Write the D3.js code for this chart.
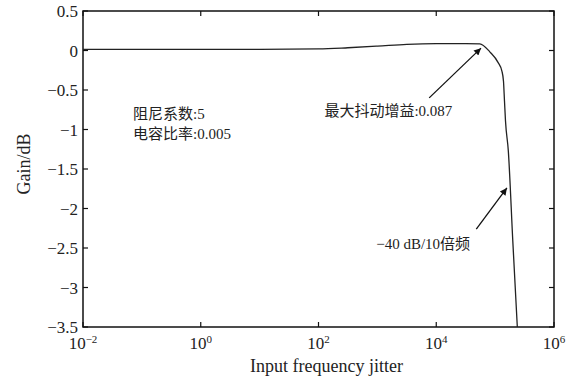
<!DOCTYPE html>
<html>
<head>
<meta charset="utf-8">
<script src="https://cdn.jsdelivr.net/npm/d3@7"></script>
<style>
  body { margin: 0; background: #fff; }
  text { font-family: "Liberation Serif", "Noto Sans CJK SC", serif; fill: #222; }
</style>
</head>
<body>
<svg id="chart" width="579" height="381"></svg>
<script>
// curve: log10(frequency) and gain in dB
const logFreq = [-2, 0, 1, 2, 2.5, 3, 3.5, 4, 4.5, 4.74, 4.913, 5.049, 5.115, 5.142, 5.159, 5.176, 5.224, 5.30, 5.377];
const gainDb = [0.015, 0.015, 0.015, 0.02, 0.035, 0.055, 0.078, 0.087, 0.087, 0.085, -0.02, -0.15, -0.26, -0.39, -0.64, -0.89, -1.27, -2.41, -3.5];

const xTickExp = [-2, 0, 2, 4, 6];
const yTicks = [0.5, 0, -0.5, -1, -1.5, -2, -2.5, -3, -3.5];

const notes = ['阻尼系数:5', '电容比率:0.005'];

const margin = { top: 11, right: 25, bottom: 54, left: 83 };
const width = 579 - margin.left - margin.right;
const height = 381 - margin.top - margin.bottom;

const svg = d3.select('#chart');
const g = svg.append('g')
  .attr('transform', 'translate(' + margin.left + ',' + margin.top + ')');

const x = d3.scaleLog().domain([1e-2, 1e6]).range([0, width]);
const y = d3.scaleLinear().domain([-3.5, 0.5]).range([height, 0]);

const tickLen = 5;

// box + inward ticks
g.append('rect')
  .attr('width', width).attr('height', height)
  .attr('fill', 'none').attr('stroke', '#111').attr('stroke-width', 1.5);

xTickExp.forEach(e => {
  const px = x(Math.pow(10, e));
  g.append('line').attr('x1', px).attr('x2', px).attr('y1', height).attr('y2', height - tickLen)
    .attr('stroke', '#111').attr('stroke-width', 1.2);
  g.append('line').attr('x1', px).attr('x2', px).attr('y1', 0).attr('y2', tickLen)
    .attr('stroke', '#111').attr('stroke-width', 1.2);
  const t = g.append('text')
    .attr('x', px).attr('y', height + 22)
    .attr('text-anchor', 'middle')
    .style('font-size', '17px');
  t.append('tspan').text('10');
  t.append('tspan').attr('dy', -6).style('font-size', '11px')
    .text(e < 0 ? '−' + Math.abs(e) : e);
});

yTicks.forEach(v => {
  const py = y(v);
  g.append('line').attr('x1', 0).attr('x2', tickLen).attr('y1', py).attr('y2', py)
    .attr('stroke', '#111').attr('stroke-width', 1.2);
  g.append('line').attr('x1', width).attr('x2', width - tickLen).attr('y1', py).attr('y2', py)
    .attr('stroke', '#111').attr('stroke-width', 1.2);
  g.append('text')
    .attr('x', -5).attr('y', py + 6)
    .attr('text-anchor', 'end')
    .style('font-size', '17px')
    .text(v === 0 ? '0' : String(v).replace('-', '−'));
});

// curve
const pts = logFreq.map((lf, i) => [Math.pow(10, lf), gainDb[i]]);
const line = d3.line()
  .x(d => x(d[0]))
  .y(d => y(d[1]))
  .curve(d3.curveMonotoneX);

g.append('path')
  .datum(pts)
  .attr('d', line)
  .attr('fill', 'none')
  .attr('stroke', '#222')
  .attr('stroke-width', 1.3);

// axis titles
g.append('text')
  .attr('x', width / 2 + 8).attr('y', height + 45)
  .attr('text-anchor', 'middle')
  .style('font-size', '18px')
  .text('Input frequency jitter');

svg.append('text')
  .attr('transform', 'translate(30,164) rotate(-90)')
  .attr('text-anchor', 'middle')
  .style('font-size', '18px')
  .text('Gain/dB');

// annotations
svg.append('defs').append('marker')
  .attr('id', 'arrow')
  .attr('viewBox', '0 0 10 10')
  .attr('refX', 10).attr('refY', 5)
  .attr('markerWidth', 10).attr('markerHeight', 7)
  .attr('markerUnits', 'userSpaceOnUse')
  .attr('orient', 'auto')
  .append('path').attr('d', 'M0,0 L10,5 L0,10 z').attr('fill', '#111');

notes.forEach((n, i) => {
  svg.append('text')
    .attr('x', 133).attr('y', 119 + i * 20)
    .style('font-size', '15px')
    .text(n);
});

function arrow(fromLog, fromDb, toLog, toDb) {
  g.append('line')
    .attr('x1', x(Math.pow(10, fromLog))).attr('y1', y(fromDb))
    .attr('x2', x(Math.pow(10, toLog))).attr('y2', y(toDb))
    .attr('stroke', '#111').attr('stroke-width', 1.3)
    .attr('marker-end', 'url(#arrow)');
}

// arrow to max gain, text below it
arrow(3.88, -0.6, 4.76, 0.03);
g.append('text')
  .attr('x', x(Math.pow(10, 2.1))).attr('y', y(-0.83))
  .style('font-size', '15px')
  .text('最大抖动增益:0.087');

// arrow to the roll-off
arrow(4.68, -2.26, 5.2, -1.74);
g.append('text')
  .attr('x', x(Math.pow(10, 2.98))).attr('y', y(-2.51))
  .style('font-size', '15px')
  .text('−40 dB/10倍频');
</script>
</body>
</html>
